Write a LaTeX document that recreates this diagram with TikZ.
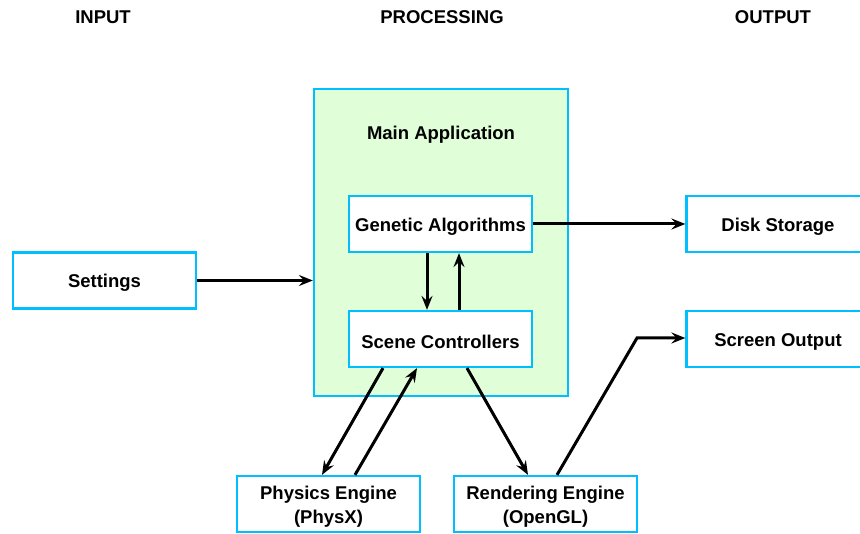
\documentclass[tikz,border=0pt]{standalone}
\usepackage{fontspec}
\setmainfont{Liberation Sans}
\usetikzlibrary{arrows.meta}
\definecolor{bcyan}{HTML}{00BFFF}
\definecolor{lgreen}{HTML}{E0FFD8}
\begin{document}
\begin{tikzpicture}[x=1pt,y=-1pt,
  box/.style={draw=bcyan,line width=2.2pt,fill=white,minimum width=183pt,minimum height=56pt,inner sep=0pt},
  boxtext/.style={label={[yshift=-2.5pt,align=center,inner sep=0pt,font=\bfseries\fontsize{18.5}{24}\selectfont]center:#1}},
  head/.style={font=\bfseries\fontsize{18.5}{21}\selectfont},
  arr/.style={line width=3pt,-{Stealth[inset=5pt,length=14pt,width=11pt]}}
]
\useasboundingbox (0,0) rectangle (860,534);
\node[head] (hin) at (103,17) {INPUT};
\node[head] (hproc) at (442,17) {PROCESSING};
\node[head] (hout) at (773,17) {OUTPUT};
\node[draw=bcyan,line width=2.2pt,fill=lgreen,minimum width=254pt,minimum height=307pt,inner sep=0pt] (main) at (441,242.5) {};
\node[head] (mainlbl) at (441,134.5) {Main Application};
\node[box,boxtext={Settings}] (set) at (104.5,280.5) {};
\node[box,boxtext={Genetic Algorithms}] (ga) at (440.5,224) {};
\node[box,boxtext={Scene Controllers}] (sc) at (440.5,339) {};
\node[box,boxtext={Disk Storage}] (disk) at (778,224) {};
\node[box,boxtext={Screen Output}] (scr) at (778,339) {};
\node[box,boxtext={Physics Engine\\(PhysX)}] (phys) at (328.5,504) {};
\node[box,boxtext={Rendering Engine\\(OpenGL)}] (rend) at (545.5,504) {};
\draw[arr] (set.east) -- (main.west |- set.east);
\draw[arr] (ga.east) -- (disk.west);
\draw[arr] (ga.south -| 427,0) -- (sc.north -| 427,0);
\draw[arr] (sc.north -| 459,0) -- (ga.south -| 459,0);
\draw[arr] (sc.south -| 383,0) -- (phys.north -| 322,0);
\draw[arr] (phys.north -| 355,0) -- (sc.south -| 417,0);
\draw[arr] (sc.south -| 467,0) -- (rend.north -| 528,0);
\coordinate (bend) at (637,338);
\draw[arr] (rend.north -| 557,0) -- (bend) -- (scr.west |- bend);
\end{tikzpicture}
\end{document}
